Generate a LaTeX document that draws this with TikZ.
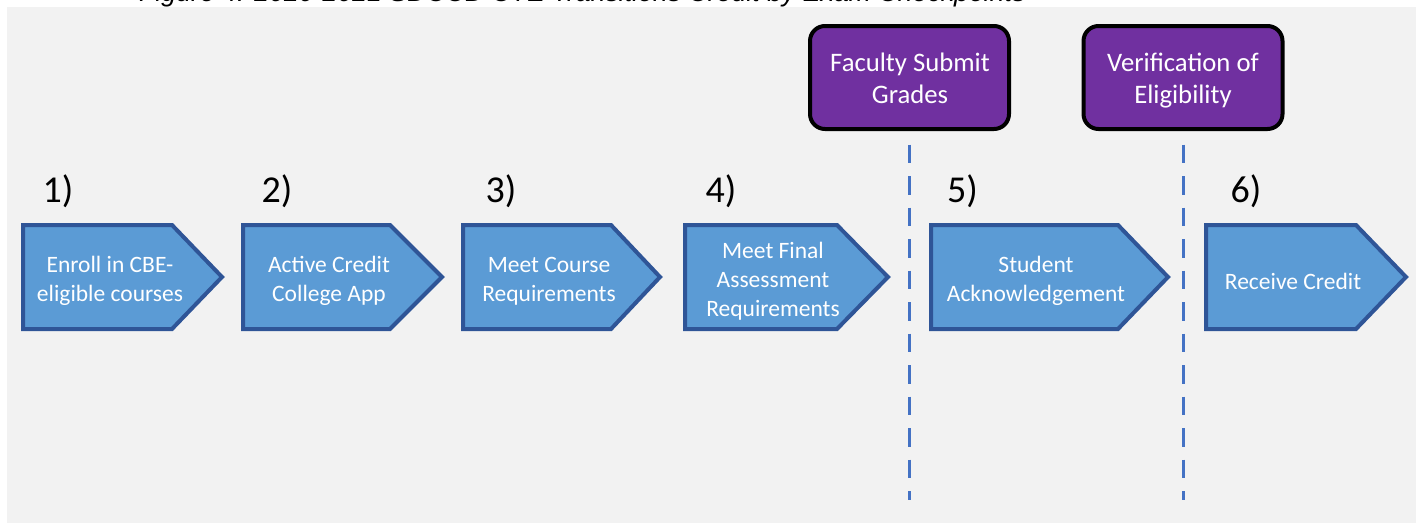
\documentclass[tikz,border=0pt]{standalone}
\usepackage{fontspec}
\setmainfont{Carlito}
\newfontfamily\capfont{Liberation Sans}
\definecolor{bggray}{HTML}{F2F2F2}
\definecolor{chevfill}{HTML}{5B9BD5}
\definecolor{chevline}{HTML}{2F5597}
\definecolor{purp}{HTML}{7030A0}
\definecolor{dashblue}{HTML}{4472C4}
\newcommand\chevshape[3]{\draw[chev] (#1+2,225) -- (#2,225) -- (#3-3,277) -- (#2,329) -- (#1+2,329) -- cycle;}
\begin{document}
\begin{tikzpicture}[x=1pt,y=-1pt,
  chev/.style={fill=chevfill,draw=chevline,line width=4pt,line join=miter},
  ctext/.style={text=white,align=center,inner sep=0pt,font=\fontsize{23.5}{28.8}\selectfont,
    execute at begin node=\strut,execute at end node=\strut},
  numlab/.style={anchor=base,inner sep=0pt,text=black,font=\fontsize{38}{40}\selectfont},
  purpbox/.style={rectangle,rounded corners=15pt,fill=purp,draw=black,line width=4pt,
    minimum width=199pt,minimum height=103pt,inner sep=0pt},
  ptext/.style={text=white,align=center,inner sep=0pt,font=\fontsize{26.7}{32.2}\selectfont,
    execute at begin node=\strut,execute at end node=\strut},
  dashline/.style={draw=dashblue,line width=3pt,dash pattern=on 18.5pt off 13pt}]
\useasboundingbox (0,0) rectangle (1416,525);
\fill[bggray] (7,7) rectangle (1416,523);
\begin{scope}
\clip (0,0) rectangle (1416,525);
\node[anchor=base west,inner sep=0pt,font=\capfont\itshape\fontsize{26.7}{30}\selectfont] (cap) at (139,1.5) {Figure 4: 2020-2021 SDCCD CTE Transitions Credit by Exam Checkpoints};
\end{scope}
% chevrons
\chevshape{21}{172}{225}
\chevshape{241}{390}{445}
\chevshape{461}{611}{663}
\chevshape{683}{837}{891}
\chevshape{929}{1118}{1171}
\chevshape{1204}{1356}{1409}
\node[ctext] (t1) at (110,283.5) {Enroll in CBE-\\eligible courses};
\node[ctext] (t2) at (329,283.5) {Active Credit\\College App};
\node[ctext] (t3) at (549,283.5) {Meet Course\\Requirements};
\node[ctext] (t4) at (773,283.5) {Meet Final\\Assessment\\Requirements};
\node[ctext] (t5) at (1036,283.5) {Student\\Acknowledgement};
\node[ctext] (t6) at (1293,283.5) {Receive Credit};
% numbers
\node[numlab] (n1) at (58,202) {1)};
\node[numlab] (n2) at (277,202) {2)};
\node[numlab] (n3) at (501,202) {3)};
\node[numlab] (n4) at (721,202) {4)};
\node[numlab] (n5) at (962.5,202) {5)};
\node[numlab] (n6) at (1246,202) {6)};
% purple boxes
\node[purpbox] (fsg) at (909.5,77.5) {};
\node[purpbox] (voe) at (1183,77.5) {};
\node[ptext] (fsgt) at (910,82.7) {Faculty Submit\\Grades};
\node[ptext] (voet) at (1183,82.7) {Verification of\\Eligibility};
% dashed lines
\draw[dashline] ([yshift=-13.5pt]fsg.south) -- ([yshift=-369pt]fsg.south);
\draw[dashline] ([yshift=-13.5pt]voe.south) -- ([yshift=-369pt]voe.south);
\end{tikzpicture}
\end{document}
